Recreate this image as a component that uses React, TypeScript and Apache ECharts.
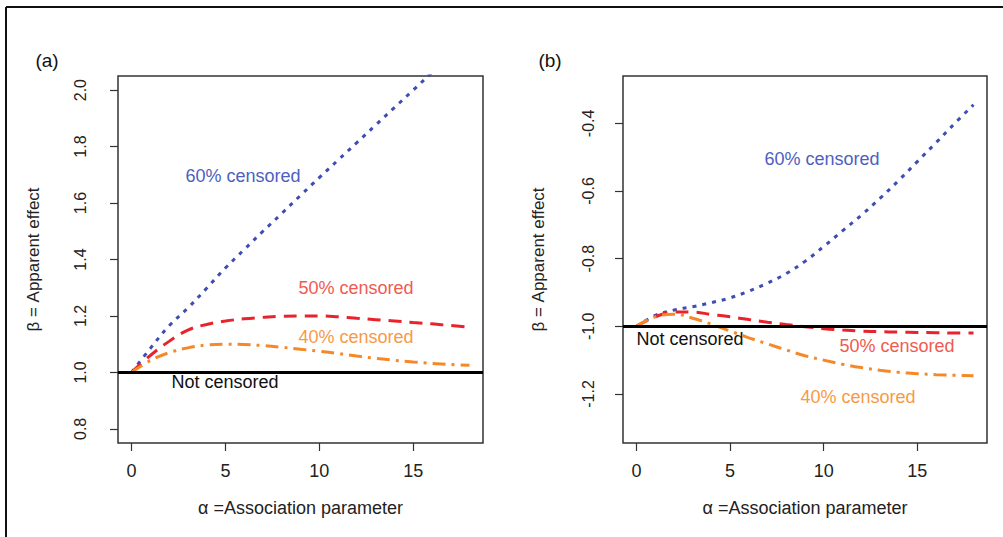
import React, { useEffect, useRef } from "react";
import * as echarts from "echarts";

const alphaValues = [0, 1, 2, 3, 4, 5, 6, 7, 8, 9, 10, 11, 12, 13, 14, 15, 16, 17, 18];

// Panel (a)
const a60 = [1.0, 1.085, 1.165, 1.228, 1.298, 1.37, 1.435, 1.5, 1.563, 1.627, 1.69, 1.752, 1.814, 1.876, 1.938, 2.0, 2.062, 2.124, 2.186];
const a50 = [1.0, 1.06, 1.11, 1.15, 1.17, 1.182, 1.19, 1.195, 1.199, 1.2, 1.2, 1.197, 1.192, 1.187, 1.182, 1.177, 1.172, 1.166, 1.16];
const a40 = [1.0, 1.042, 1.07, 1.087, 1.097, 1.1, 1.099, 1.095, 1.089, 1.082, 1.075, 1.067, 1.058, 1.05, 1.043, 1.037, 1.032, 1.028, 1.025];
const aBaseline = 1.0;
const aYTicks = [0.8, 1.0, 1.2, 1.4, 1.6, 1.8, 2.0];

// Panel (b)
const b60 = [-1.0, -0.968, -0.952, -0.942, -0.93, -0.916, -0.896, -0.872, -0.844, -0.808, -0.764, -0.718, -0.672, -0.622, -0.569, -0.513, -0.457, -0.4, -0.345];
const b50 = [-1.0, -0.972, -0.958, -0.958, -0.965, -0.972, -0.98, -0.988, -0.995, -1.001, -1.007, -1.011, -1.014, -1.016, -1.017, -1.018, -1.019, -1.02, -1.02];
const b40 = [-1.0, -0.972, -0.964, -0.976, -0.994, -1.014, -1.034, -1.052, -1.07, -1.087, -1.1, -1.112, -1.122, -1.13, -1.136, -1.14, -1.143, -1.145, -1.146];
const bBaseline = -1.0;
const bYTicks = [-1.2, -1.0, -0.8, -0.6, -0.4];

const xTicks = [0, 5, 10, 15];

const FONT = "'Liberation Sans', Arial, sans-serif";
const BLUE = "#3d4db3";
const RED = "#e8232c";
const ORANGE = "#f5892a";

function pairs(ys: number[]) {
  return alphaValues.map((x, i) => [x, ys[i]]);
}

export default function App() {
  const ref = useRef<HTMLDivElement>(null);
  useEffect(() => {
    if (!ref.current) return;
    const chart = echarts.init(ref.current, null, { renderer: "svg" });

    const xAxisBase = (gridIndex: number) => ({
      type: "value",
      gridIndex,
      min: -0.72,
      max: 18.72,
      splitLine: { show: false },
      axisLine: { show: false, onZero: false },
      axisTick: { show: true, length: 8, inside: false, customValues: xTicks, lineStyle: { color: "#333", width: 1.2 } },
      axisLabel: { customValues: xTicks, margin: 19, fontSize: 18, color: "#222", fontFamily: FONT },
      name: "α =Association parameter",
      nameLocation: "middle",
      nameGap: 56,
      nameTextStyle: { fontSize: 18, color: "#222", fontFamily: FONT },
    });

    const yAxisBase = (gridIndex: number, min: number, max: number, ticks: number[], margin: number) => ({
      type: "value",
      gridIndex,
      min,
      max,
      splitLine: { show: false },
      axisLine: { show: false, onZero: false },
      axisTick: { show: true, length: 8, inside: false, customValues: ticks, lineStyle: { color: "#333", width: 1.2 } },
      axisLabel: {
        customValues: ticks,
        rotate: 90,
        margin,
        fontSize: 16,
        color: "#222",
        fontFamily: FONT,
        formatter: (v: number) => v.toFixed(1),
      },
      name: "β = Apparent effect",
      nameLocation: "middle",
      nameGap: 76,
      nameRotate: 90,
      nameTextStyle: { fontSize: 17, color: "#222", fontFamily: FONT },
    });

    const lineSeries = (idx: number, data: number[], color: string, dash: number[]) => ({
      type: "line",
      xAxisIndex: idx,
      yAxisIndex: idx,
      data: pairs(data),
      smooth: 0.4,
      showSymbol: false,
      symbol: "none",
      clip: true,
      lineStyle: { color, width: 3, type: dash, cap: "butt" },
    });

    const baseline = (idx: number, y: number) => ({
      type: "line",
      xAxisIndex: idx,
      yAxisIndex: idx,
      data: [],
      markLine: {
        silent: true,
        symbol: "none",
        label: { show: false },
        lineStyle: { color: "#000", width: 3, type: "solid" },
        data: [{ yAxis: y }],
      },
    });

    const label = (text: string, x: number, y: number, color: string, size = 18) => ({
      type: "text",
      x,
      y,
      style: { text, fill: color, fontSize: size, fontFamily: FONT, align: "center", verticalAlign: "middle" },
    });

    chart.setOption({
      animation: false,
      backgroundColor: "#fff",
      grid: [
        { left: 118, top: 76, width: 365, height: 367, show: true, borderColor: "#333", borderWidth: 1.5, backgroundColor: "transparent" },
        { left: 623, top: 76, width: 364, height: 367, show: true, borderColor: "#333", borderWidth: 1.5, backgroundColor: "transparent" },
      ],
      xAxis: [xAxisBase(0), xAxisBase(1)],
      yAxis: [yAxisBase(0, 0.75, 2.05, aYTicks, 30), yAxisBase(1, -1.345, -0.26, bYTicks, 27)],
      series: [
        baseline(0, aBaseline),
        lineSeries(0, a60, BLUE, [4, 6]),
        lineSeries(0, a50, RED, [13, 8]),
        lineSeries(0, a40, ORANGE, [13, 6, 3, 6]),
        baseline(1, bBaseline),
        lineSeries(1, b60, BLUE, [4, 6]),
        lineSeries(1, b50, RED, [13, 8]),
        lineSeries(1, b40, ORANGE, [13, 6, 3, 6]),
      ],
      graphic: [
        { type: "line", shape: { x1: 6, y1: 7, x2: 1003, y2: 7 }, style: { stroke: "#111", lineWidth: 2 } },
        { type: "line", shape: { x1: 6, y1: 7, x2: 6, y2: 537 }, style: { stroke: "#111", lineWidth: 2 } },
        label("(a)", 47, 60, "#111", 19),
        label("(b)", 550, 60, "#111", 19),
        label("60% censored", 243, 176, "#4e5fc0"),
        label("50% censored", 356, 288, "#f05a50"),
        label("40% censored", 356, 337, "#f79a45"),
        label("Not censored", 225, 382, "#111"),
        label("60% censored", 822, 159, "#4e5fc0"),
        label("50% censored", 897, 346, "#f05a50"),
        label("40% censored", 858, 397, "#f79a45"),
        label("Not censored", 690, 339, "#111"),
      ],
    });
    return () => chart.dispose();
  }, []);
  return <div ref={ref} style={{ position: "absolute", left: 0, top: 0, width: 1003, height: 537 }} />;
}
